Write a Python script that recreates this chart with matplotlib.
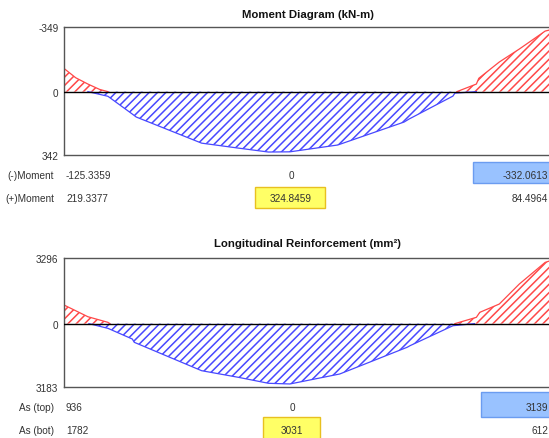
import matplotlib.pyplot as plt

plt.rcParams['font.family'] = ['Liberation Sans', 'DejaVu Sans']
plt.rcParams['hatch.linewidth'] = 1.1

W, H = 549, 439

# stations along the span (m), beam length 10 m
neg_m_left_x = [0.0, 0.24, 0.49, 0.73, 0.90]
neg_m_left = [-125.3359, -75, -41, -12, 0]
neg_m_right_x = [8.05, 8.45, 8.50, 8.92, 9.33, 9.86, 9.94]
neg_m_right = [0, -41, -72, -160, -230, -327, -332.0613]
pos_m_x = [0.49, 0.90, 1.40, 1.48, 2.82, 3.58, 4.19, 4.63, 5.61, 6.97, 7.07, 7.97, 8.01, 8.45]
pos_m = [0, 25, 121, 137, 278, 305, 326, 324.8459, 288, 164, 148, 24, 8, 0]

as_top_left_x = [0.0, 0.49, 0.90, 0.94]
as_top_left = [936, 346, 65, 0]
as_top_right_x = [8.01, 8.45, 8.52, 8.92, 9.33, 9.86, 9.94]
as_top_right = [0, 316, 567, 984, 1988, 3077, 3139]
as_bot_x = [0.51, 0.90, 1.40, 1.44, 2.82, 3.58, 4.19, 4.63, 5.65, 7.03, 7.09, 7.97, 8.41]
as_bot = [0, 236, 773, 939, 2364, 2700, 2997, 3031, 2530, 1190, 1109, 105, 0]

moment_table = {'(-)Moment': ['-125.3359', '0', '-332.0613'],
                 '(+)Moment': ['219.3377', '324.8459', '84.4964']}
rebar_table = {'As (top)': ['936', '0', '3139'],
               'As (bot)': ['1782', '3031', '612']}

RED = '#ff4848'
BLUE = '#4848ff'

fig = plt.figure(figsize=(W / 100, H / 100), dpi=100)


def px_axes(left, top, right, bottom):
    return fig.add_axes([left / W, 1 - bottom / H, (right - left) / W, (bottom - top) / H])


def ftext(x, y, s, **kw):
    fig.text(x / W, 1 - y / H, s, fontsize=7.2, color='#333333', va='center', **kw)


def fbox(x0, y0, x1, y1, fc, ec):
    fig.patches.append(plt.Rectangle((x0 / W, 1 - y1 / H), (x1 - x0) / W, (y1 - y0) / H,
                                     transform=fig.transFigure, facecolor=fc, edgecolor=ec,
                                     linewidth=1.0, zorder=0))


def setup(ax, ylim, ticks, labels):
    ax.set_xlim(0, 10)
    ax.set_ylim(*ylim)
    ax.axhline(0, color='black', lw=1.0, zorder=5)
    ax.set_xticks([])
    ax.set_yticks(ticks)
    ax.set_yticklabels(labels, fontsize=7.2, color='#333333')
    ax.tick_params(axis='y', length=0, pad=4)
    ax.spines['right'].set_visible(False)
    for s in ['left', 'top', 'bottom']:
        ax.spines[s].set_color('#555555')
        ax.spines[s].set_linewidth(1.0)


def shade(ax, x, y, color):
    ax.fill_between(x, y, 0, facecolor='none', edgecolor=color, hatch='////', lw=0)
    ax.plot(x, y, color=color, lw=0.9)


# moment diagram
ax1 = px_axes(64, 28, 552, 156)
setup(ax1, (342, -349), [-349, 0, 342], ['-349', '0', '342'])
shade(ax1, neg_m_left_x, neg_m_left, RED)
shade(ax1, neg_m_right_x, neg_m_right, RED)
shade(ax1, pos_m_x, pos_m, BLUE)
fig.text(308 / W, 1 - 15 / H, 'Moment Diagram (kN-m)', ha='center', va='center',
         fontsize=8.2, fontweight='bold', color='#111111')

# longitudinal reinforcement
ax2 = px_axes(64, 259, 552, 388)
setup(ax2, (-3183, 3296), [3296, 0, -3183], ['3296', '0', '3183'])
shade(ax2, as_top_left_x, as_top_left, RED)
shade(ax2, as_top_right_x, as_top_right, RED)
shade(ax2, as_bot_x, [-v for v in as_bot], BLUE)
fig.text(308 / W, 1 - 244 / H, 'Longitudinal Reinforcement (mm²)', ha='center', va='center',
         fontsize=8.2, fontweight='bold', color='#111111')

# section value tables
fbox(473, 163, 560, 184, '#99c2ff', '#6b9cf0')
fbox(255, 188, 325, 209, '#ffff66', '#e8c020')
for (name, vals), y in zip(moment_table.items(), [176, 199]):
    ftext(54, y, name, ha='right')
    ftext(66, y, vals[0], ha='left')
    ftext(291, y, vals[1], ha='center')
    ftext(548, y, vals[2], ha='right')

fbox(481, 393, 560, 418, '#99c2ff', '#6b9cf0')
fbox(263, 418, 320, 440, '#ffff66', '#e8c020')
for (name, vals), y in zip(rebar_table.items(), [408, 431]):
    ftext(54, y, name, ha='right')
    ftext(66, y, vals[0], ha='left')
    ftext(292, y, vals[1], ha='center')
    ftext(548, y, vals[2], ha='right')

plt.savefig('out.png', dpi=100)
